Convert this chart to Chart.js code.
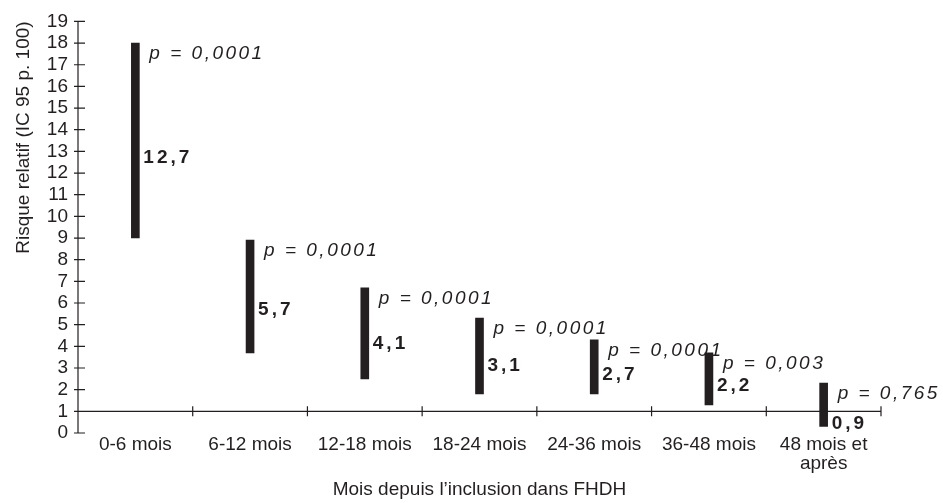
<!DOCTYPE html>
<html>
<head>
<meta charset="utf-8">
<script src="https://cdn.jsdelivr.net/npm/chart.js@4/dist/chart.umd.min.js"></script>
<style>
html, body { margin: 0; padding: 0; background: #fff; }
#wrap { width: 943px; height: 503px; }
</style>
</head>
<body>
<div id="wrap"><canvas id="g-risque"></canvas></div>
<script>
var categories = ['0-6 mois', '6-12 mois', '12-18 mois', '18-24 mois', '24-36 mois', '36-48 mois', ['48 mois et', 'après']];
var rr = [12.7, 5.7, 4.1, 3.1, 2.7, 2.2, 0.9];
var rrLabels = ['12,7', '5,7', '4,1', '3,1', '2,7', '2,2', '0,9'];
var icLow = [9.0, 3.7, 2.5, 1.8, 1.8, 1.3, 0.3];
var icHigh = [18.0, 8.9, 6.7, 5.3, 4.3, 3.7, 2.3];
var pLabels = ['p = 0,0001', 'p = 0,0001', 'p = 0,0001', 'p = 0,0001', 'p = 0,0001', 'p = 0,003', 'p = 0,765'];
var yMin = 0, yMax = 19, refLine = 1;

var ink = '#231f20';
Chart.defaults.font.family = "'Liberation Sans', Arial, sans-serif";
Chart.defaults.color = ink;

// axes en croix + etiquettes RR / p
var marques = {
  id: 'marques',
  afterDatasetsDraw: function(chart) {
    var ctx = chart.ctx, a = chart.chartArea;
    var x = chart.scales.x, y = chart.scales.y;
    ctx.save();
    ctx.strokeStyle = ink;
    ctx.lineWidth = 1.2;
    ctx.beginPath();
    ctx.moveTo(a.left, y.getPixelForValue(yMin));
    ctx.lineTo(a.left, y.getPixelForValue(yMax));
    for (var v = yMin; v <= yMax; v++) {
      var py = y.getPixelForValue(v);
      ctx.moveTo(a.left - 4, py);
      ctx.lineTo(a.left + 7, py);
    }
    var ly = y.getPixelForValue(refLine);
    ctx.moveTo(a.left, ly);
    ctx.lineTo(a.right, ly);
    for (var i = 1; i <= categories.length; i++) {
      var px = x.getPixelForValue(i - 0.5);
      ctx.moveTo(px, ly - 5);
      ctx.lineTo(px, ly + 5);
    }
    ctx.stroke();

    ctx.fillStyle = ink;
    ctx.textBaseline = 'middle';
    ctx.textAlign = 'left';
    for (var j = 0; j < rr.length; j++) {
      var right = x.getPixelForValue(j) + 4;
      ctx.font = 'bold 19px "Liberation Sans", Arial, sans-serif';
      ctx.letterSpacing = '3px';
      var vy = y.getPixelForValue(rr[j]);
      if (vy > ly - 10) vy = ly + 12; // trop pres de la ligne 1 : en dessous
      ctx.fillText(rrLabels[j], right + 4, vy);
      ctx.font = 'italic 19px "Liberation Sans", Arial, sans-serif';
      ctx.letterSpacing = '2.5px';
      ctx.fillText(pLabels[j], right + 10, y.getPixelForValue(icHigh[j]) + 11);
    }
    ctx.letterSpacing = '0px';
    ctx.restore();
  }
};

var idhtml = document.getElementById('g-risque').getContext('2d');
var g_risque = new Chart(idhtml, {
  type: 'bar',
  data: {
    labels: categories,
    datasets: [{
      label: 'IC 95',
      data: icLow.map(function(l, i) { return [l, icHigh[i]]; }),
      backgroundColor: ink,
      borderWidth: 0,
      borderSkipped: false,
      barThickness: 8
    }]
  },
  options: {
    responsive: true,
    maintainAspectRatio: false,
    animation: false,
    layout: { padding: { top: 17, right: 62, left: 0, bottom: 0 } },
    plugins: { legend: { display: false }, tooltip: { enabled: false } },
    scales: {
      x: {
        grid: { display: false, drawTicks: false },
        border: { display: false },
        ticks: { font: { size: 19, lineHeight: 1 }, padding: 2, maxRotation: 0, autoSkip: false },
        title: { display: true, text: 'Mois depuis l’inclusion dans FHDH', font: { size: 19 }, padding: { top: 0, bottom: 2 } },
        afterFit: function(scale) { scale.height = 70; }
      },
      y: {
        min: yMin,
        max: yMax,
        grid: { display: false, drawTicks: false },
        border: { display: false },
        ticks: { stepSize: 1, autoSkip: false, font: { size: 19 }, padding: 10 },
        title: { display: true, align: 'end', text: 'Risque relatif (IC 95 p. 100)', font: { size: 19 }, padding: { top: 12, bottom: 0 } },
        afterFit: function(scale) { scale.width = 78; }
      }
    }
  },
  plugins: [marques]
});
</script>
</body>
</html>
